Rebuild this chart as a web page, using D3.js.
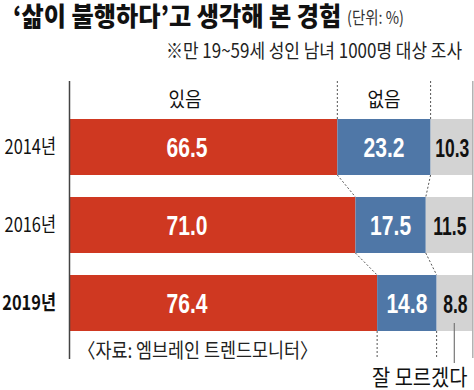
<!DOCTYPE html>
<html><head><meta charset="utf-8">
<script src="https://cdn.jsdelivr.net/npm/d3@7"></script>
<style>body{margin:0;background:#fff}svg{display:block}</style>
</head><body>
<script>
const years = ["2014년", "2016년", "2019년"];
const yes = [66.5, 71.0, 76.4];
const no = [23.2, 17.5, 14.8];
const dunno = [10.3, 11.5, 8.8];
const seriesNames = ["있음", "없음", "잘 모르겠다"];
const colors = ["#cf3821", "#4f77a7", "#d3d3d3"];

const W = 474, H = 390;
const svg = d3.select("body").append("svg").attr("width", W).attr("height", H);
const KR = "'Noto Sans CJK KR', 'Noto Sans', sans-serif";

const x = d3.scaleLinear().domain([0, 100]).range([70, 472]);
const y = d3.scaleBand().domain(years).range([119, 331]).paddingInner(22/78).paddingOuter(0);
const bh = y.bandwidth();

function txt(g, s, px, py, size, opts = {}) {
  return g.append("text")
    .attr("transform", `translate(${px},${py}) scale(${opts.sx || 1},1)`)
    .attr("text-anchor", opts.anchor || "start")
    .attr("font-family", opts.family || KR)
    .attr("font-size", size)
    .attr("font-weight", opts.weight || "normal")
    .attr("fill", opts.fill || "#111")
    .text(s);
}

// title
txt(svg, "‘삶이 불행하다’고 생각해 본 경험", 13, 26, 26, {weight: "900", sx: 0.93});
txt(svg, "(단위: %)", 347, 24, 17, {sx: 0.85, fill: "#333"});
txt(svg, "※만 19~59세 성인 남녀 1000명 대상 조사", 462, 58, 19.5, {anchor: "end", sx: 0.87, fill: "#222"});

// stacked data
const rows = years.map((yr, i) => {
  const vals = [yes[i], no[i], dunno[i]];
  let c = 0;
  return {yr, segs: vals.map((v, k) => { const s = {k, v, x0: c, x1: c + v}; c += v; return s; })};
});

const g = svg.append("g");
rows.forEach(r => {
  g.selectAll(null).data(r.segs).join("rect")
    .attr("x", d => x(d.x0))
    .attr("width", d => x(d.x1) - x(d.x0))
    .attr("y", y(r.yr)).attr("height", bh)
    .attr("fill", d => colors[d.k]);
});

// axis lines
svg.append("line").attr("x1", 69.5).attr("x2", 69.5).attr("y1", 81).attr("y2", 359)
  .attr("stroke", "#444").attr("stroke-width", 1.5);
svg.append("line").attr("x1", 472.8).attr("x2", 472.8).attr("y1", 81).attr("y2", 358)
  .attr("stroke", "#b0b0b0").attr("stroke-width", 1.5);

// dashed connectors
function dl(x1, y1, x2, y2) {
  svg.append("line").attr("x1", x1).attr("y1", y1).attr("x2", x2).attr("y2", y2)
    .attr("stroke", "#555").attr("stroke-width", 1).attr("stroke-dasharray", "2,2");
}
[0, 1].forEach(k => {
  const first = rows[0].segs[k].x1, last = rows[rows.length - 1].segs[k].x1;
  dl(x(first), 81, x(first), y(years[0]));
  for (let i = 0; i < rows.length - 1; i++) {
    dl(x(rows[i].segs[k].x1), y(years[i]) + bh, x(rows[i + 1].segs[k].x1), y(years[i + 1]));
  }
  dl(x(last), y(years[2]) + bh, x(last), 358);
});

// series labels
txt(svg, seriesNames[0], 185, 107, 20, {anchor: "middle", sx: 0.9});
txt(svg, seriesNames[1], (x(rows[0].segs[0].x1) + x(rows[0].segs[1].x1)) / 2, 107, 20, {anchor: "middle", sx: 0.9});

// year labels + values
const NUM = "'Liberation Sans', sans-serif";
rows.forEach((r, i) => {
  const cy = y(r.yr) + bh / 2 + 7;
  txt(svg, r.yr, 56, cy, 20, {anchor: "end", sx: 0.82, weight: i === 2 ? "bold" : "normal"});
  txt(svg, r.segs[0].v.toFixed(1), 187, cy + 3, 27, {anchor: "middle", sx: 0.78, weight: "bold", fill: "#fff", family: NUM});
  txt(svg, r.segs[1].v.toFixed(1), (x(r.segs[1].x0) + x(r.segs[1].x1)) / 2, cy + 3, 27, {anchor: "middle", sx: 0.78, weight: "bold", fill: "#fff", family: NUM});
  txt(svg, r.segs[2].v.toFixed(1), (x(r.segs[2].x0) + x(r.segs[2].x1)) / 2 + 1, cy + 3, 25, {anchor: "middle", sx: 0.7, weight: "bold", fill: "#111", family: NUM});
});

// leader to 잘 모르겠다
const lx = (x(rows[2].segs[2].x0) + x(rows[2].segs[2].x1)) / 2;
svg.append("line").attr("x1", lx).attr("x2", lx).attr("y1", 323).attr("y2", 363).attr("stroke", "#777").attr("stroke-width", 1.2);
txt(svg, seriesNames[2], 372, 385, 22, {sx: 0.9});

// source
txt(svg, "〈자료: 엠브레인 트렌드모니터〉", 78, 358, 20, {sx: 0.87, fill: "#222"});
</script>
</body></html>
